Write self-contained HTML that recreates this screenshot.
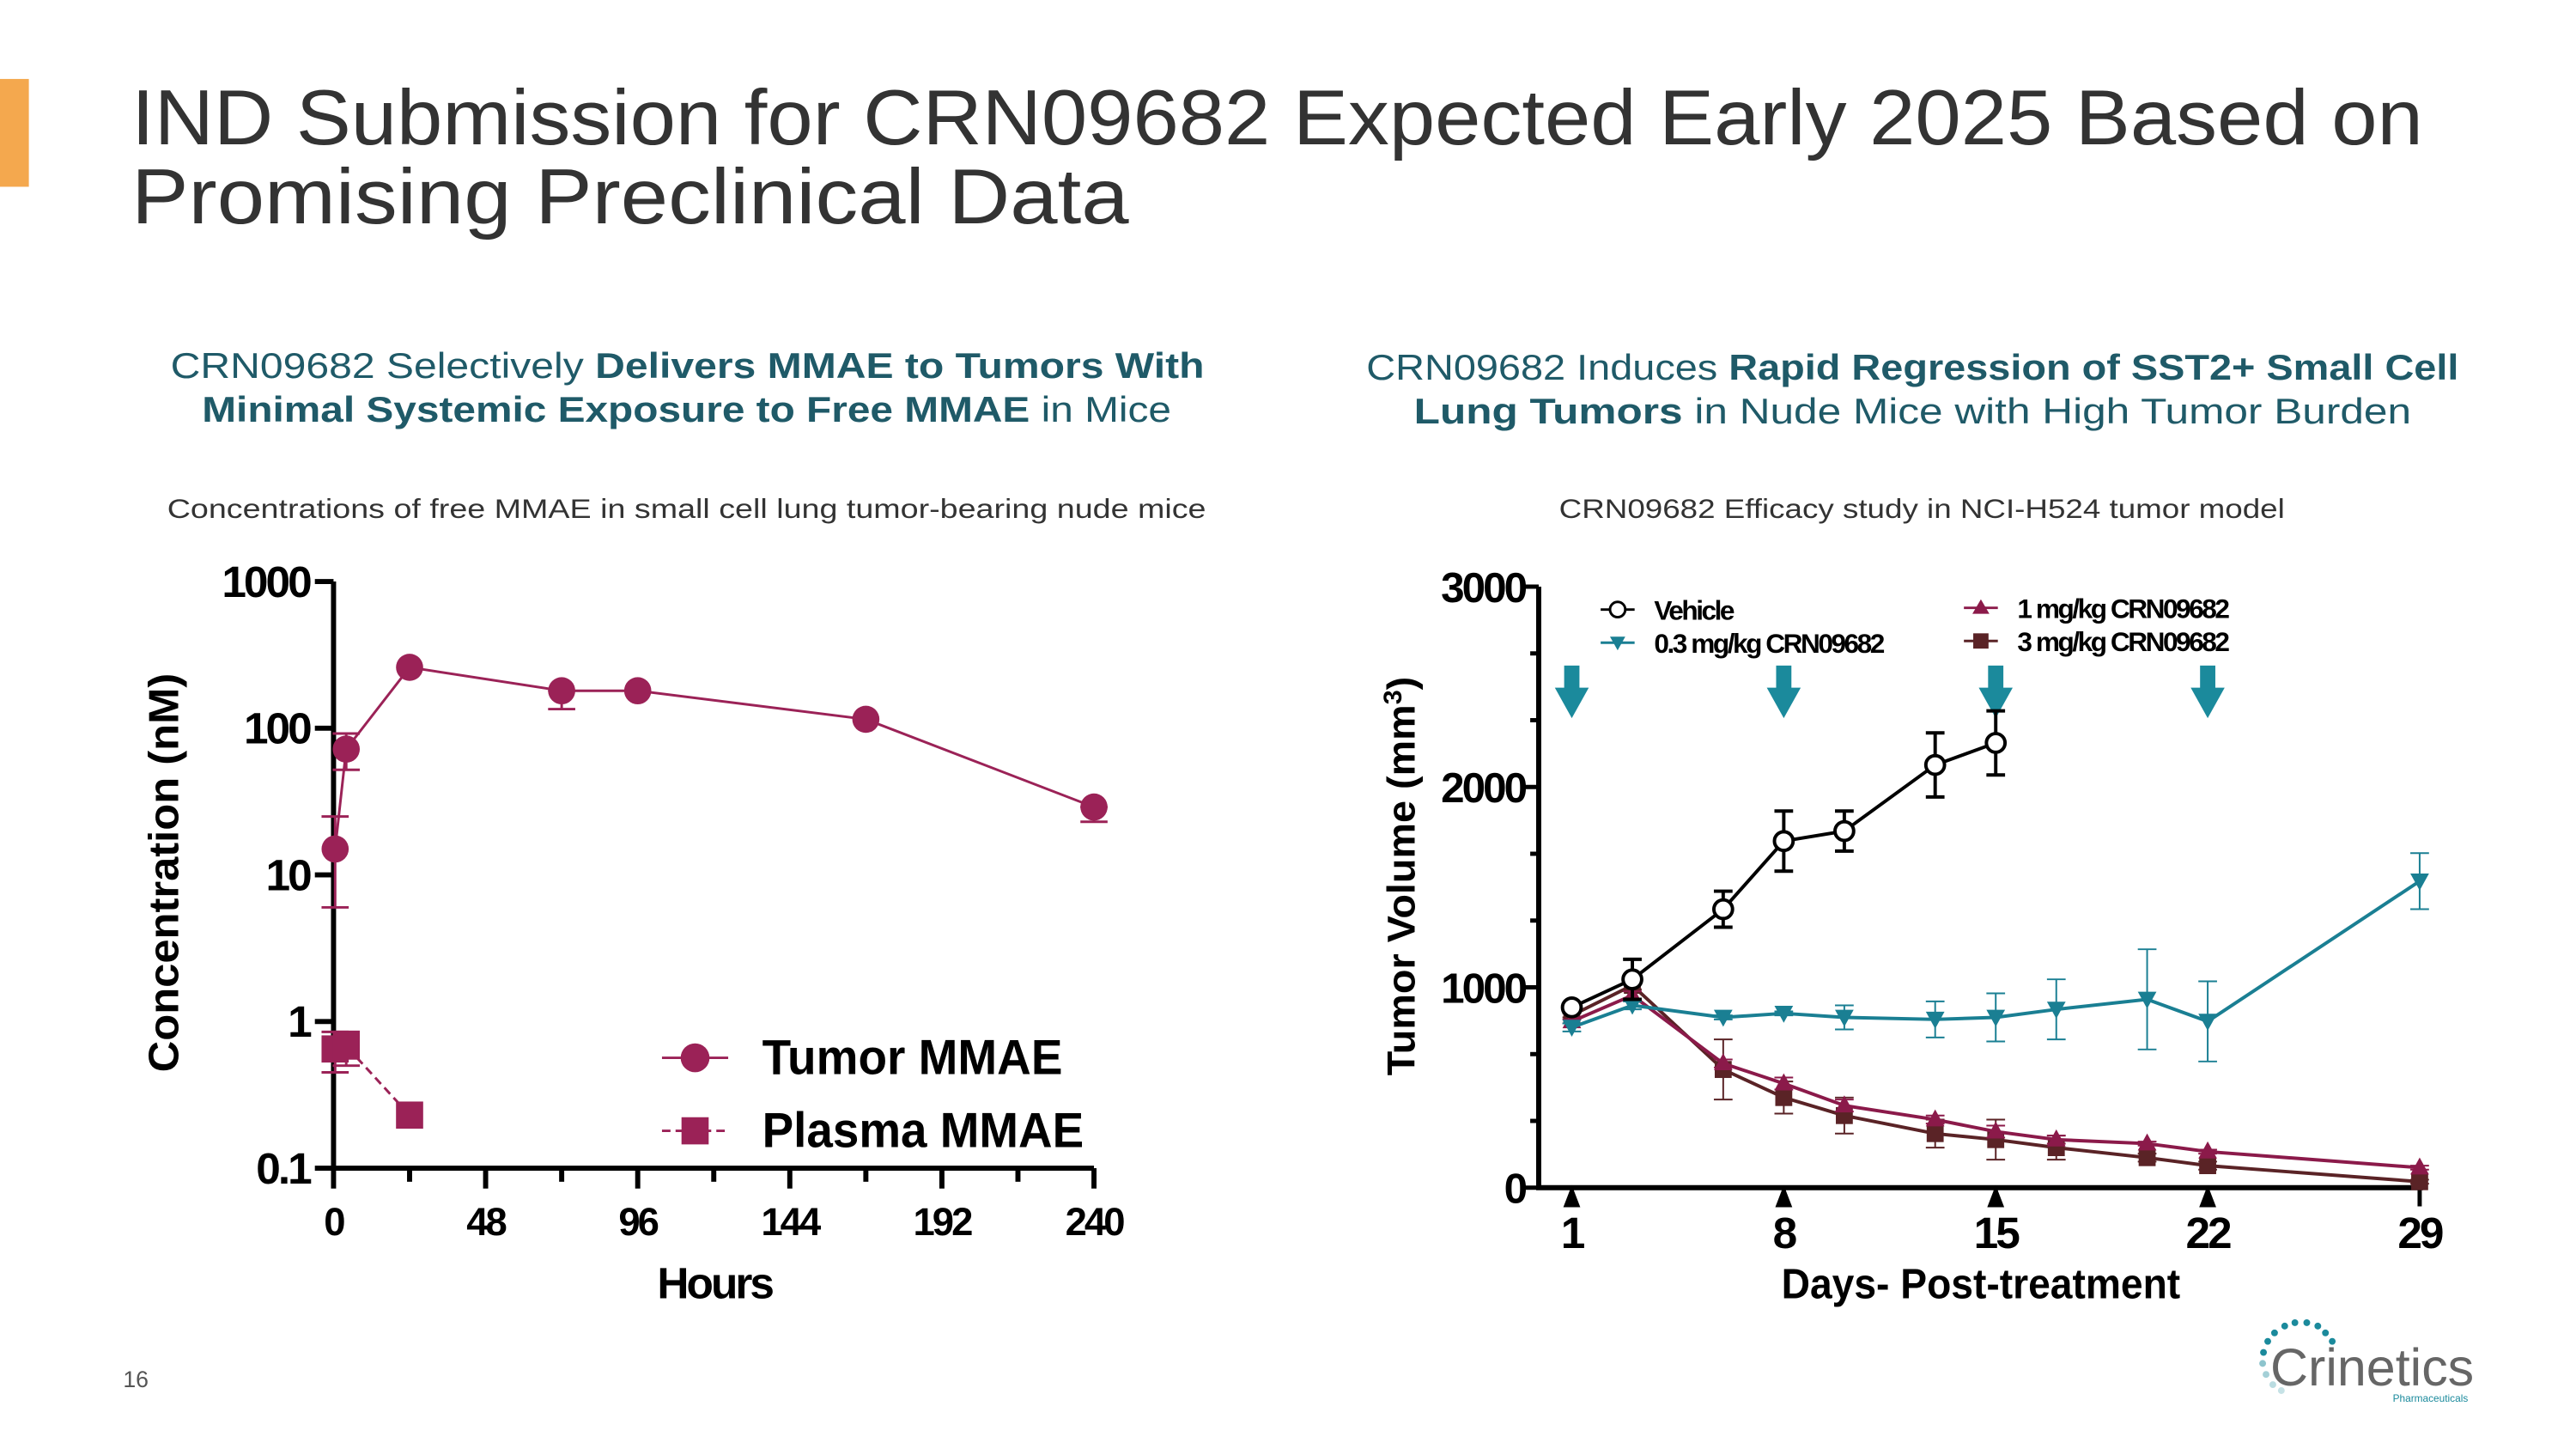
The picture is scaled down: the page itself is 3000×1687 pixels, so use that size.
<!DOCTYPE html>
<html><head><meta charset="utf-8"><style>
html,body{margin:0;padding:0;background:#fff;width:3000px;height:1687px;overflow:hidden}
svg text{font-family:"Liberation Sans",sans-serif}
</style></head><body>
<svg id="slide" width="3000" height="1687" viewBox="0 0 3000 1687" xmlns="http://www.w3.org/2000/svg">
<g transform="scale(0.9884)">
<rect x="0" y="93" width="34" height="127" fill="#f4a84e"/>
<text x="155" y="170" font-size="92" fill="#333" textLength="2700" lengthAdjust="spacingAndGlyphs">IND Submission for CRN09682 Expected Early 2025 Based on</text>
<text x="155" y="263" font-size="92" fill="#333" textLength="1175" lengthAdjust="spacingAndGlyphs">Promising Preclinical Data</text>

<text x="201" y="445" font-size="42" fill="#1f5a68" textLength="1218" lengthAdjust="spacingAndGlyphs">CRN09682 Selectively <tspan font-weight="bold">Delivers MMAE to Tumors With</tspan></text>
<text x="238" y="497" font-size="42" fill="#1f5a68" textLength="1142" lengthAdjust="spacingAndGlyphs"><tspan font-weight="bold">Minimal Systemic Exposure to Free MMAE</tspan> in Mice</text>
<text x="1610" y="447" font-size="42" fill="#1f5a68" textLength="1287" lengthAdjust="spacingAndGlyphs">CRN09682 Induces <tspan font-weight="bold">Rapid Regression of SST2+ Small Cell</tspan></text>
<text x="1666" y="499" font-size="42" fill="#1f5a68" textLength="1175" lengthAdjust="spacingAndGlyphs"><tspan font-weight="bold">Lung Tumors</tspan> in Nude Mice with High Tumor Burden</text>
<text x="197" y="610" font-size="32" fill="#333" textLength="1224" lengthAdjust="spacingAndGlyphs">Concentrations of free MMAE in small cell lung tumor-bearing nude mice</text>
<text x="1837" y="610" font-size="32" fill="#333" textLength="855" lengthAdjust="spacingAndGlyphs">CRN09682 Efficacy study in NCI-H524 tumor model</text>

<g id="left-chart"></g>
<g id="right-chart"></g>

<text x="145" y="1634" font-size="27" fill="#555">16</text>
<g>
<g fill="#1b8a9c">
<circle cx="2692" cy="1562" r="4"/><circle cx="2704" cy="1558" r="4"/><circle cx="2718" cy="1558" r="4"/><circle cx="2731" cy="1562" r="4"/><circle cx="2740" cy="1570" r="4"/><circle cx="2680" cy="1570" r="4"/><circle cx="2672" cy="1580" r="4"/><circle cx="2748" cy="1580" r="4"/><circle cx="2667" cy="1593" r="4"/>
<circle cx="2666" cy="1606" r="4" opacity="0.5"/><circle cx="2670" cy="1619" r="4" opacity="0.4"/><circle cx="2678" cy="1631" r="4" opacity="0.3"/><circle cx="2688" cy="1638" r="4" opacity="0.25"/>
</g>
<text x="2675" y="1632" font-size="62" fill="#666" textLength="240" lengthAdjust="spacingAndGlyphs">Crinetics</text>
<text x="2908" y="1651" font-size="12" fill="#1b8a9c" text-anchor="end">Pharmaceuticals</text>
</g>
</g>
</svg>
<script>
// ---------- Left chart data ----------
const tumorHours = [0.5, 4, 24, 72, 96, 168, 240];
const tumorConc = [15, 72, 260, 180, 180, 115, 29];
const tumorLo = [6, 52, 260, 135, 180, 115, 23];
const tumorHi = [25, 92, 260, 180, 180, 115, 29];
const plasmaHours = [0.5, 4, 24];
const plasmaConc = [0.65, 0.68, 0.23];
const plasmaLo = [0.45, 0.5, 0.23];
const plasmaHi = [0.85, 0.85, 0.23];
const leftYTicks = [0.1, 1, 10, 100, 1000];
const leftYTickLabels = ["0.1", "1", "10", "100", "1000"];
const leftXTicks = [0, 48, 96, 144, 192, 240];

// ---------- Right chart data ----------
const days = [1, 3, 6, 8, 10, 13, 15, 17, 20, 22, 29];
const vehicleDays = [1, 3, 6, 8, 10, 13, 15];
const vehicleVol = [900, 1040, 1390, 1730, 1780, 2110, 2220];
const vehicleErr = [20, 100, 90, 150, 100, 160, 160];
const dose03Vol = [800, 910, 850, 870, 850, 840, 850, 890, 940, 830, 1530];
const dose03Err = [20, 20, 10, 10, 60, 90, 120, 150, 250, 200, 140];
const dose1Vol = [830, 960, 620, 520, 410, 340, 280, 240, 220, 180, 100];
const dose1Err = [10, 20, 20, 30, 30, 20, 30, 20, 10, 10, 10];
const dose3Vol = [860, 1010, 590, 450, 360, 270, 240, 200, 150, 110, 30];
const dose3Err = [10, 20, 150, 80, 90, 70, 100, 60, 20, 20, 10];
const dosingDays = [1, 8, 15, 22];
const rightYTicks = [0, 1000, 2000, 3000];
const rightXTicks = [1, 8, 15, 22, 29];

const NS = "http://www.w3.org/2000/svg";
function mk(tag, attrs, parent) {
  const e = document.createElementNS(NS, tag);
  for (const k in attrs) e.setAttribute(k, attrs[k]);
  parent.appendChild(e);
  return e;
}

// ===== LEFT =====
(function () {
  const g = document.getElementById('left-chart');
  const X0 = 393, X1 = 1289, Yb = 1376, Yt = 685;
  const xs = h => X0 + (h / 240) * (X1 - X0);
  const ys = v => Yb - (Math.log10(v) + 1) / 4 * (Yb - Yt);
  const C = '#9b2257';
  const ax = mk('path', { d: `M${X0},${Yt} V${Yb} H${X1}`, stroke: '#000', 'stroke-width': 6, fill: 'none' }, g);
  
  
  leftYTicks.forEach((v, i) => {
    const y = ys(v);
    const t = mk('line', { x1: X0 - 22, x2: X0, y1: y, y2: y, stroke: '#000', 'stroke-width': 6 }, g);
    
    
    const lab = mk('text', { x: X0 - 28, y: y + 18, 'font-size': 52, 'font-weight': 'bold', 'text-anchor': 'end', 'letter-spacing': -3 }, g);
    lab.textContent = leftYTickLabels[i];
    
    
  });
  for (let h = 0; h <= 240; h += 24) {
    const major = h % 48 === 0;
    const t = mk('line', { x1: xs(h), x2: xs(h), y1: Yb, y2: Yb + (major ? 24 : 16), stroke: '#000', 'stroke-width': 6 }, g);
    
    
  }
  leftXTicks.forEach(h => {
    const lab = mk('text', { x: xs(h), y: 1455, 'font-size': 46, 'font-weight': 'bold', 'text-anchor': 'middle', 'letter-spacing': -3 }, g);
    lab.textContent = String(h);
    
    
  });
  const xt = mk('text', { x: 842, y: 1529, 'font-size': 52, 'font-weight': 'bold', 'text-anchor': 'middle', 'letter-spacing': -3 }, g);
  xt.textContent = 'Hours';
  
  
  const yt = mk('text', { x: 0, y: 0, 'font-size': 50, 'font-weight': 'bold', 'text-anchor': 'middle', transform: 'translate(210,1028) rotate(-90)', textLength: 470, lengthAdjust: 'spacingAndGlyphs' }, g);
  yt.textContent = 'Concentration (nM)';
  
  

  const tl = mk('polyline', { points: tumorHours.map((h, i) => xs(h) + ',' + ys(tumorConc[i])).join(' '), stroke: C, 'stroke-width': 3, fill: 'none' }, g);
  
  
  tumorHours.forEach((h, i) => {
    const x = xs(h);
    if (tumorHi[i] !== tumorLo[i]) {
      const e = mk('path', { d: `M${x},${ys(tumorHi[i])} V${ys(tumorLo[i])} M${x - 16},${ys(tumorHi[i])} h32 M${x - 16},${ys(tumorLo[i])} h32`, stroke: C, 'stroke-width': 3, fill: 'none' }, g);
      
      
    }
    const c = mk('circle', { cx: x, cy: ys(tumorConc[i]), r: 16, fill: C }, g);
    
    
  });
  const pl = mk('polyline', { points: plasmaHours.map((h, i) => xs(h) + ',' + ys(plasmaConc[i])).join(' '), stroke: C, 'stroke-width': 3, fill: 'none', 'stroke-dasharray': '10 6' }, g);
  
  
  plasmaHours.forEach((h, i) => {
    const x = xs(h);
    if (plasmaHi[i] !== plasmaLo[i]) {
      const e = mk('path', { d: `M${x},${ys(plasmaHi[i])} V${ys(plasmaLo[i])} M${x - 16},${ys(plasmaHi[i])} h32 M${x - 16},${ys(plasmaLo[i])} h32`, stroke: C, 'stroke-width': 3, fill: 'none' }, g);
      
      
    }
    const s = mk('rect', { x: x - 16, y: ys(plasmaConc[i]) - 16, width: 32, height: 32, fill: C }, g);
    
    
  });
  const l1 = mk('g', {}, g);
  
  
  mk('line', { x1: 780, x2: 858, y1: 1246, y2: 1246, stroke: C, 'stroke-width': 3 }, l1);
  mk('circle', { cx: 819, cy: 1246, r: 17, fill: C }, l1);
  const t1 = mk('text', { x: 898, y: 1265, 'font-size': 58, 'font-weight': 'bold', textLength: 354, lengthAdjust: 'spacingAndGlyphs' }, l1);
  t1.textContent = 'Tumor MMAE';
  const l2 = mk('g', {}, g);
  
  
  mk('line', { x1: 780, x2: 858, y1: 1332, y2: 1332, stroke: C, 'stroke-width': 3, 'stroke-dasharray': '10 6' }, l2);
  mk('rect', { x: 803, y: 1316, width: 32, height: 32, fill: C }, l2);
  const t2 = mk('text', { x: 898, y: 1351, 'font-size': 58, 'font-weight': 'bold', textLength: 379, lengthAdjust: 'spacingAndGlyphs' }, l2);
  t2.textContent = 'Plasma MMAE';
})();

// ===== RIGHT =====
(function () {
  const g = document.getElementById('right-chart');
  const AX = 1813, XE = 2855, D1 = 1852, D29 = 2851, Y0 = 1399, Y3 = 691;
  const xs = d => D1 + (d - 1) / 28 * (D29 - D1);
  const ys = v => Y0 - v / 3000 * (Y0 - Y3);
  const ax = mk('path', { d: `M${AX},${Y3} V${Y0} H${XE}`, stroke: '#000', 'stroke-width': 6, fill: 'none' }, g);
  
  
  for (let k = 0; k <= 9; k++) {
    const v = k * 1000 / 3, major = k % 3 === 0;
    const t = mk('line', { x1: AX - (major ? 18 : 10), x2: AX, y1: ys(v), y2: ys(v), stroke: '#000', 'stroke-width': 5 }, g);
    
    
  }
  rightYTicks.forEach(v => {
    const lab = mk('text', { x: AX - 16, y: ys(v) + 18, 'font-size': 50, 'font-weight': 'bold', 'text-anchor': 'end', 'letter-spacing': -3 }, g);
    lab.textContent = String(v);
    
    
  });
  rightXTicks.forEach(d => {
    const t = mk('line', { x1: xs(d), x2: xs(d), y1: Y0, y2: Y0 + 22, stroke: '#000', 'stroke-width': 5 }, g);
    
    
    const lab = mk('text', { x: xs(d), y: 1470, 'font-size': 52, 'font-weight': 'bold', 'text-anchor': 'middle', 'letter-spacing': -3 }, g);
    lab.textContent = String(d);
    
    
  });
  const xt = mk('text', { x: 2334, y: 1529, 'font-size': 50, 'font-weight': 'bold', 'text-anchor': 'middle', textLength: 470, lengthAdjust: 'spacingAndGlyphs' }, g);
  xt.textContent = 'Days- Post-treatment';
  
  
  const yt = mk('text', { x: 0, y: 0, 'font-size': 46, 'font-weight': 'bold', 'text-anchor': 'middle', transform: 'translate(1667,1032) rotate(-90)', textLength: 470, lengthAdjust: 'spacingAndGlyphs' }, g);
  yt.innerHTML = 'Tumor Volume (mm<tspan dy="-16" font-size="30">3</tspan><tspan dy="16">)</tspan>';
  
  

  dosingDays.forEach(d => {
    const x = xs(d);
    const a = mk('path', { d: `M${x - 9},784 h18 v26 h11 l-20,36 l-20,-36 h11 z`, fill: '#1b8a9c' }, g);
    
    
    const t = mk('path', { d: `M${x},1396 l10,26 h-20 z`, fill: '#000' }, g);
    
    
  });

  function series(name, dd, vals, errs, color, marker, lw, ew) {
    const sg = mk('g', {}, g);
    
    
    dd.forEach((d, i) => {
      const x = xs(d), lo = ys(vals[i] - errs[i]), hi = ys(vals[i] + errs[i]);
      const e = mk('path', { d: `M${x},${hi} V${lo} M${x - 11},${hi} h22 M${x - 11},${lo} h22`, stroke: color, 'stroke-width': ew, fill: 'none' }, sg);
      
      
    });
    const l = mk('polyline', { points: dd.map((d, i) => xs(d) + ',' + ys(vals[i])).join(' '), stroke: color, 'stroke-width': lw, fill: 'none' }, sg);
    
    
    dd.forEach((d, i) => {
      const x = xs(d), y = ys(vals[i]);
      let m;
      if (marker === 'circle') m = mk('circle', { cx: x, cy: y, r: 11, fill: '#fff', stroke: color, 'stroke-width': 4 }, sg);
      else if (marker === 'down') m = mk('path', { d: `M${x - 11},${y - 9} h22 l-11,20 z`, fill: color }, sg);
      else if (marker === 'up') m = mk('path', { d: `M${x},${y - 12} l11,20 h-22 z`, fill: color }, sg);
      else m = mk('rect', { x: x - 10, y: y - 10, width: 20, height: 20, fill: color }, sg);
      
      
    });
  }
  series('dose-3mg', days, dose3Vol, dose3Err, '#5a2326', 'square', 4, 2);
  series('dose-1mg', days, dose1Vol, dose1Err, '#8b1a4a', 'up', 4, 2);
  series('dose-0-3mg', days, dose03Vol, dose03Err, '#1a7f93', 'down', 4, 2);
  series('vehicle', vehicleDays, vehicleVol, vehicleErr, '#000', 'circle', 4, 4);

  const items = [
    ['vehicle', 'Vehicle', 1906, 718, '#000', 'circle'],
    ['0-3mg', '0.3 mg/kg CRN09682', 1906, 757, '#1a7f93', 'down'],
    ['1mg', '1 mg/kg CRN09682', 2334, 716, '#8b1a4a', 'up'],
    ['3mg', '3 mg/kg CRN09682', 2334, 755, '#5a2326', 'square']
  ];
  items.forEach(it => {
    const [id, label, x, y, c, m] = it;
    const lg = mk('g', {}, g);
    
    
    mk('line', { x1: x - 20, x2: x + 20, y1: y, y2: y, stroke: c, 'stroke-width': 3 }, lg);
    if (m === 'circle') mk('circle', { cx: x, cy: y, r: 9, fill: '#fff', stroke: c, 'stroke-width': 3 }, lg);
    else if (m === 'down') mk('path', { d: `M${x - 9},${y - 7} h18 l-9,16 z`, fill: c }, lg);
    else if (m === 'up') mk('path', { d: `M${x},${y - 10} l10,17 h-20 z`, fill: c }, lg);
    else mk('rect', { x: x - 9, y: y - 9, width: 18, height: 18, fill: c }, lg);
    const t = mk('text', { x: x + 43, y: y + 12, 'font-size': 32, 'font-weight': 'bold', 'letter-spacing': -2.5 }, lg);
    t.textContent = label;
  });
})();
</script>
</body></html>
